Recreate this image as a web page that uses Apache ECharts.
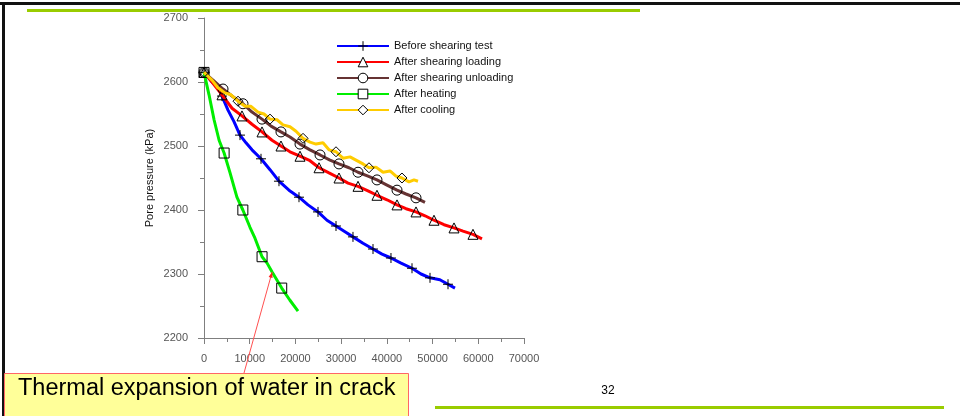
<!DOCTYPE html>
<html>
<head>
<meta charset="utf-8">
<script src="https://cdn.jsdelivr.net/npm/echarts@6/dist/echarts.min.js"></script>
<style>
  html, body { margin: 0; padding: 0; background: #ffffff; }
  #chart { width: 960px; height: 416px; }
</style>
</head>
<body>
<div id="chart"></div>
<script>
// Pore pressure (kPa) against elapsed time for the five test stages.
const xTicks = [0, 10000, 20000, 30000, 40000, 50000, 60000, 70000];
const yTicks = [2200, 2300, 2400, 2500, 2600, 2700];

const seriesNames = [
  'Before shearing test',
  'After shearing loading',
  'After shearing unloading',
  'After heating',
  'After cooling'
];

// Traces
const beforeLine = [
  [0, 2615], [1750, 2600], [3500, 2588], [3940, 2578], [5250, 2556], [6560, 2538],
  [7875, 2517], [9190, 2505], [10500, 2494], [12470, 2480], [14440, 2463], [16400, 2445],
  [18590, 2431], [20780, 2420], [22750, 2408], [24940, 2397], [26900, 2384], [28875, 2375],
  [30840, 2366], [32590, 2358], [34780, 2348], [36970, 2339], [38940, 2331], [40900, 2325],
  [43100, 2317], [45500, 2309], [47470, 2300], [49440, 2294], [51600, 2291], [53375, 2284],
  [54900, 2278]
];
const loadingLine = [
  [0, 2615], [1750, 2600], [3940, 2580], [6125, 2559], [8310, 2547], [10500, 2534],
  [12690, 2522], [14875, 2509], [16840, 2500], [18810, 2491], [21000, 2484], [23190, 2477],
  [25160, 2466], [27340, 2458], [29530, 2450], [31500, 2442], [33690, 2437], [35875, 2430],
  [37840, 2423], [40030, 2416], [42220, 2408], [44190, 2402], [46375, 2397], [48340, 2391],
  [50310, 2384], [52500, 2377], [54690, 2372], [56660, 2367], [58840, 2362], [60810, 2355]
];
const unloadingLine = [
  [0, 2615], [1970, 2603], [4160, 2589], [6340, 2577], [8530, 2566], [10500, 2553],
  [12690, 2542], [14660, 2531], [16840, 2522], [18810, 2514], [21000, 2503], [23190, 2494],
  [25380, 2486], [27560, 2478], [29530, 2472], [31720, 2466], [33690, 2459], [35875, 2453],
  [37840, 2447], [40030, 2439], [42220, 2431], [44190, 2425], [46375, 2419], [48340, 2412]
];
const heatingLine = [
  [0, 2615], [1100, 2580], [2200, 2541], [3300, 2509], [4400, 2489], [5700, 2458],
  [7200, 2420], [8500, 2400], [10060, 2373], [11150, 2356], [12700, 2327], [13800, 2317],
  [14900, 2303], [17000, 2278], [18800, 2259], [20560, 2242]
];
const coolingLine = [
  [0, 2615], [1750, 2603], [3060, 2591], [4590, 2583], [5900, 2580], [7440, 2570],
  [8970, 2562], [10280, 2562], [11810, 2553], [13125, 2550], [14440, 2542], [15970, 2541],
  [17280, 2533], [18810, 2530], [20125, 2523], [21660, 2512], [23190, 2506], [24500, 2503],
  [26030, 2505], [27340, 2494], [28875, 2491], [30400, 2481], [31940, 2483], [33250, 2478],
  [34780, 2472], [36090, 2466], [37625, 2467], [39160, 2459], [40690, 2461], [42000, 2453],
  [43300, 2450], [44840, 2444], [45940, 2447], [46810, 2445]
];

// Marker positions
const beforeMarks = [
  [0, 2615], [3940, 2578], [7875, 2517], [12470, 2480], [16400, 2445], [20780, 2420],
  [24940, 2397], [28875, 2375], [32590, 2358], [36970, 2339], [40900, 2325], [45500, 2309],
  [49440, 2294], [53375, 2284]
];
const loadingMarks = [
  [0, 2615], [3940, 2580], [8310, 2547], [12690, 2522], [16840, 2500], [21000, 2484],
  [25160, 2466], [29530, 2450], [33690, 2437], [37840, 2423], [42220, 2408], [46375, 2397],
  [50310, 2384], [54690, 2372], [58840, 2362]
];
const unloadingMarks = [
  [0, 2615], [4160, 2589], [8530, 2566], [12690, 2542], [16840, 2522], [21000, 2503],
  [25380, 2486], [29530, 2472], [33690, 2459], [37840, 2447], [42220, 2431], [46375, 2419]
];
const heatingMarks = [
  [0, 2615], [4400, 2489], [8500, 2400], [12700, 2327], [17000, 2278]
];
const coolingMarks = [
  [0, 2615], [7440, 2570], [14440, 2542], [21660, 2512], [28875, 2491], [36090, 2466],
  [43300, 2450]
];

// Point where the annotation arrow lands on the heating trace
const crackPoint = [14900, 2303];

const lineColors = ['#0000ff', '#ff0000', '#663333', '#00ee00', '#ffcc00'];
const symbols = [
  'path://M0,5L10,5M5,0L5,10',
  'triangle',
  'circle',
  'rect',
  'diamond'
];

function buildData(line, marks) {
  const pts = line.map(p => ({ value: p, symbol: 'none' }));
  marks.forEach(m => pts.push({ value: m }));
  pts.sort((a, b) => a.value[0] - b.value[0] || (a.symbol ? -1 : 1));
  return pts;
}

const traces = [beforeLine, loadingLine, unloadingLine, heatingLine, coolingLine];
const markSets = [beforeMarks, loadingMarks, unloadingMarks, heatingMarks, coolingMarks];

const series = seriesNames.map((name, i) => ({
  name: name,
  type: 'line',
  data: buildData(traces[i], markSets[i]),
  symbol: symbols[i],
  symbolSize: 10,
  showAllSymbol: true,
  animation: false,
  silent: true,
  z: 2 + i,
  lineStyle: { color: lineColors[i], width: 3 },
  itemStyle: { color: 'rgba(255,255,255,0)', borderColor: '#000', borderWidth: 1 },
  emphasis: { disabled: true }
}));

const axisGray = '#7f7f7f';
const labelGray = '#555555';
const plain = v => String(v);

const chart = echarts.init(document.getElementById('chart'), null, { renderer: 'canvas' });

chart.setOption({
  backgroundColor: '#ffffff',
  animation: false,
  textStyle: { fontFamily: 'Liberation Sans, Arial, sans-serif' },
  grid: { left: 204, top: 18, width: 320, height: 320, containLabel: false },
  legend: {
    orient: 'vertical',
    left: 336,
    top: 40,
    padding: 0,
    itemWidth: 52,
    itemHeight: 12,
    itemGap: 4,
    data: seriesNames,
    textStyle: { fontSize: 11, lineHeight: 12, color: '#111', fontFamily: 'Liberation Sans, Arial, sans-serif' },
    itemStyle: { color: '#ffffff', borderColor: '#000000', borderWidth: 1 },
    selectedMode: false
  },
  xAxis: {
    type: 'value',
    min: xTicks[0],
    max: xTicks[xTicks.length - 1],
    interval: xTicks[1] - xTicks[0],
    splitLine: { show: false },
    axisLine: { onZero: false, lineStyle: { color: axisGray, width: 1 } },
    axisTick: { length: 6, lineStyle: { color: axisGray } },
    minorTick: { show: true, splitNumber: 2, length: 4, lineStyle: { color: axisGray } },
    axisLabel: { margin: 15, fontSize: 11, color: labelGray, formatter: plain }
  },
  yAxis: {
    type: 'value',
    min: yTicks[0],
    max: yTicks[yTicks.length - 1],
    interval: yTicks[1] - yTicks[0],
    name: 'Pore pressure (kPa)',
    nameLocation: 'middle',
    nameGap: 49,
    nameTextStyle: { fontSize: 11, color: '#111' },
    splitLine: { show: false },
    axisLine: { onZero: false, lineStyle: { color: axisGray, width: 1 } },
    axisTick: { length: 6, lineStyle: { color: axisGray } },
    minorTick: { show: true, splitNumber: 2, length: 4, lineStyle: { color: axisGray } },
    axisLabel: { margin: 16, fontSize: 11, color: labelGray, formatter: plain }
  },
  series: series
});

// Slide decorations and the callout
const tip = chart.convertToPixel({ gridIndex: 0 }, crackPoint);
const tail = [244, 373];
const ang = Math.atan2(tip[1] - tail[1], tip[0] - tail[0]);
const head = 6, spread = 0.35;
const headPts = [
  tip,
  [tip[0] - head * Math.cos(ang - spread), tip[1] - head * Math.sin(ang - spread)],
  [tip[0] - head * Math.cos(ang + spread), tip[1] - head * Math.sin(ang + spread)]
];

chart.setOption({
  graphic: [
    { type: 'rect', shape: { x: 0, y: 2, width: 960, height: 3 }, style: { fill: '#111' }, silent: true },
    { type: 'rect', shape: { x: 2, y: 2, width: 3, height: 414 }, style: { fill: '#111' }, silent: true },
    { type: 'rect', shape: { x: 27, y: 9, width: 613, height: 3 }, style: { fill: '#99cc00' }, silent: true },
    { type: 'rect', shape: { x: 435, y: 406, width: 509, height: 3 }, style: { fill: '#99cc00' }, silent: true },
    {
      type: 'line', z: 100,
      shape: { x1: tail[0], y1: tail[1], x2: tip[0], y2: tip[1] },
      style: { stroke: '#ff5050', lineWidth: 1 }, silent: true
    },
    { type: 'polygon', z: 100, shape: { points: headPts }, style: { fill: '#ff2020' }, silent: true },
    {
      type: 'rect', z: 101,
      shape: { x: 4.5, y: 373.5, width: 404, height: 50 },
      style: { fill: '#ffff99', stroke: '#ff6666', lineWidth: 1 }, silent: true
    },
    {
      type: 'text', z: 102, x: 18, y: 389,
      style: {
        text: 'Thermal expansion of water in crack',
        fill: '#000', fontSize: 23.5, fontFamily: 'Liberation Sans, Arial, sans-serif',
        verticalAlign: 'middle', align: 'left'
      }, silent: true
    },
    {
      type: 'text', z: 102, x: 608, y: 391,
      style: {
        text: '32', fill: '#000', fontSize: 12, fontFamily: 'Liberation Sans, Arial, sans-serif',
        verticalAlign: 'middle', align: 'center'
      }, silent: true
    }
  ]
});
</script>
</body>
</html>
